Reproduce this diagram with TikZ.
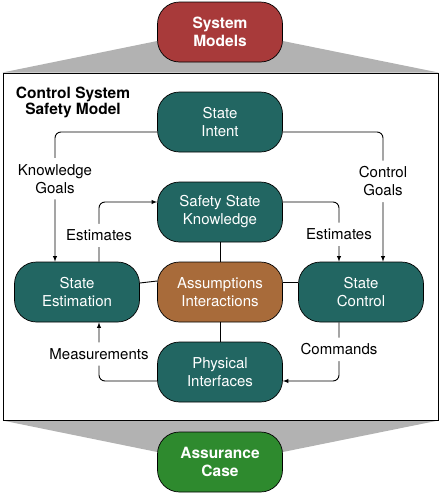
\documentclass[tikz,border=0pt]{standalone}
\usepackage{fontspec}
\setmainfont{TeX Gyre Heros}
\usepackage{tikz}
\usetikzlibrary{calc, arrows, backgrounds}
\definecolor{modelred}{HTML}{A83A3A}
\definecolor{stateteal}{HTML}{226662}
\definecolor{assumbrown}{HTML}{A86B3A}
\definecolor{casegreen}{HTML}{2E8A2E}
\tikzstyle{blk}=[draw, line width=0.7pt, rounded corners=22pt, minimum width=125pt, minimum height=60pt, inner sep=0pt, align=center, text=white, font=\fontsize{15}{18}\selectfont]
\tikzstyle{bblk}=[blk, font=\bfseries\fontsize{15.5}{18}\selectfont]
\tikzstyle{lbl}=[fill=white, align=center, inner xsep=2pt, inner ysep=6pt, font=\fontsize{15}{18}\selectfont]
\tikzstyle{conn}=[line width=0.9pt, rounded corners=6pt]
\tikzset{>=latex}

\begin{document}
\begin{tikzpicture}[x=1pt, y=-1pt]
\useasboundingbox (0,0) rectangle (441,493);
% the outer frame and its title
\node[draw, line width=1pt, minimum width=435pt, minimum height=347pt, inner sep=0pt] (frame) at (220.5,246.5) {};
\node[align=center, font=\bfseries\fontsize{15.5}{16}\selectfont] (title) at (73,102) {Control System\\Safety Model};
% the model and the case
\node[bblk, fill=modelred] (M) at (220,32) {System\\Models};
\node[bblk, fill=casegreen] (AC) at (220,462) {Assurance\\Case};
% the ``inner'' blocks
\node[blk, fill=stateteal] (SI) at (220,122) {State\\Intent};
\node[blk, fill=stateteal] (SK) at (220,212) {Safety State\\Knowledge};
\node[blk, fill=stateteal] (SE) at (77,292) {State\\Estimation};
\node[blk, fill=assumbrown] (AI) at (220,292) {Assumptions\\Interactions};
\node[blk, fill=stateteal] (SC) at (361,292) {State\\Control};
\node[blk, fill=stateteal] (PI) at (220,372) {Physical\\Interfaces};
% the arrows
\draw[conn, ->] ([yshift=-10pt]SI.west) -| node[lbl, pos=0.68] {Knowledge\\Goals} ([xshift=-22pt]SE.north);
\draw[conn, ->] ([yshift=-10pt]SI.east) -| node[lbl, pos=0.69] {Control\\Goals} ([xshift=22pt]SC.north);
\draw[conn, ->] ([xshift=22pt]SE.north) |- node[lbl, pos=0.22] {Estimates} ([yshift=10pt]SK.west);
\draw[conn, ->] ([yshift=10pt]SK.east) -| node[lbl, pos=0.77] {Estimates} ([xshift=-22pt]SC.north);
\draw[conn, ->] ([yshift=-9pt]PI.west) -| node[lbl, pos=0.73] {Measurements} ([xshift=22pt]SE.south);
\draw[conn, ->] ([xshift=-22pt]SC.south) |- node[lbl, pos=0.23] {Commands} ([yshift=-9pt]PI.east);
% the plain links
\draw[line width=0.9pt] (SK) -- (AI) -- (PI);
\draw[line width=0.9pt] ([yshift=9pt]SE.east) -- ([yshift=11pt]AI.west);
\draw[line width=0.9pt] ([yshift=10pt]AI.east) -- ([yshift=10pt]SC.west);
% the grey fans
\begin{scope}[on background layer]
\fill[black!30] ([yshift=-9pt]M.west) -- (frame.north west) -- (frame.north east) -- ([yshift=-9pt]M.east) -- cycle;
\fill[black!30] (frame.south west) -- ([yshift=10pt]AC.west) -- ([yshift=10pt]AC.east) -- (frame.south east) -- cycle;
\end{scope}
\end{tikzpicture}
\end{document}
